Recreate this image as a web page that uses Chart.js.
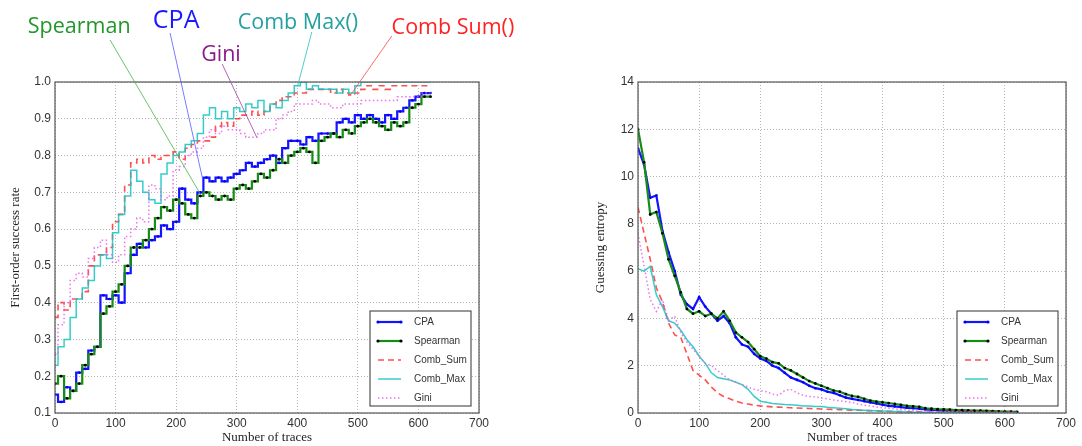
<!DOCTYPE html>
<html>
<head>
<meta charset="utf-8">
<script src="https://cdn.jsdelivr.net/npm/chart.js@4.4.0/dist/chart.umd.min.js"></script>
<style>
html,body{margin:0;padding:0;background:#fff;}
#wrap{position:relative;width:1082px;height:446px;overflow:hidden;background:#fff;}
#c1{position:absolute;left:0;top:0;}
#c2{position:absolute;left:541px;top:0;}
</style>
</head>
<body>
<div id="wrap">
<canvas id="c1" width="541" height="446"></canvas>
<canvas id="c2" width="541" height="446"></canvas>
</div>
<script>
// ---------- data ----------
const traces = [0,10,20,30,40,50,60,70,80,90,
  100,110,120,130,140,150,160,170,180,190,
  200,210,220,230,240,250,260,270,280,290,
  300,310,320,330,340,350,360,370,380,390,
  400,410,420,430,440,450,460,470,480,490,
  500,510,520,530,540,550,560,570,580,590,
  600,610,620];

const seriesNames = ['CPA','Spearman','Comb_Sum','Comb_Max','Gini'];

// First-order success rate (left)
const cpaRate = [0.15,0.13,0.17,0.16,0.21,0.22,0.27,0.28,0.42,0.41,
  0.42,0.40,0.48,0.53,0.56,0.55,0.57,0.58,0.61,0.60,
  0.62,0.71,0.68,0.67,0.70,0.74,0.73,0.74,0.73,0.74,
  0.75,0.76,0.78,0.77,0.78,0.79,0.80,0.78,0.82,0.84,
  0.84,0.83,0.85,0.84,0.86,0.86,0.86,0.89,0.90,0.89,
  0.91,0.90,0.91,0.90,0.89,0.91,0.90,0.92,0.93,0.95,
  0.96,0.97,0.97];
const spearmanRate = [0.18,0.20,0.14,0.16,0.18,0.23,0.26,0.28,0.37,0.39,
  0.43,0.45,0.50,0.55,0.55,0.57,0.60,0.63,0.66,0.65,
  0.68,0.67,0.64,0.63,0.69,0.70,0.69,0.68,0.69,0.68,
  0.71,0.72,0.71,0.73,0.75,0.74,0.76,0.79,0.78,0.80,
  0.81,0.82,0.81,0.78,0.84,0.85,0.86,0.85,0.87,0.86,
  0.88,0.89,0.90,0.89,0.88,0.87,0.89,0.88,0.89,0.93,
  0.94,0.96,0.96];
const combSumRate = [0.36,0.40,0.38,0.41,0.41,0.43,0.50,0.53,0.53,0.55,
  0.62,0.64,0.72,0.78,0.79,0.78,0.80,0.79,0.80,0.80,
  0.81,0.79,0.82,0.83,0.84,0.84,0.85,0.88,0.89,0.88,
  0.90,0.91,0.91,0.92,0.91,0.92,0.94,0.95,0.96,0.96,
  0.97,0.97,0.98,0.98,0.98,0.98,0.97,0.98,0.97,0.965,
  0.97,0.98,0.99,0.98,0.99,0.98,0.99,0.99,0.99,0.99,
  0.99,0.99,0.99];
const combMaxRate = [0.23,0.28,0.30,0.36,0.41,0.44,0.46,0.50,0.53,0.52,
  0.59,0.64,0.69,0.76,0.73,0.70,0.68,0.67,0.75,0.78,
  0.80,0.81,0.83,0.84,0.86,0.91,0.93,0.90,0.92,0.90,
  0.93,0.92,0.94,0.93,0.95,0.92,0.94,0.93,0.95,0.97,
  0.99,1.00,0.98,0.99,0.98,0.98,0.98,0.97,0.98,0.97,
  0.99,1.00,1.00,1.00,1.00,1.00,1.00,1.00,1.00,1.00,
  1.00,1.00,1.00];
const giniRate = [0.26,0.34,0.40,0.46,0.48,0.47,0.52,0.55,0.57,0.53,
  0.51,0.53,0.58,0.60,0.63,0.62,0.72,0.71,0.68,0.69,
  0.76,0.77,0.80,0.81,0.82,0.85,0.87,0.86,0.88,0.87,
  0.87,0.86,0.85,0.85,0.86,0.87,0.87,0.90,0.91,0.92,
  0.94,0.94,0.94,0.95,0.94,0.94,0.93,0.93,0.94,0.94,
  0.94,0.95,0.95,0.95,0.95,0.95,0.95,0.96,0.96,0.96,
  0.96,0.97,0.97];

// Guessing entropy (right)
const cpaGE = [11.2,10.5,9.1,9.2,7.7,6.8,6.0,5.0,4.6,4.4,
  4.9,4.5,4.2,3.9,4.1,3.8,3.2,2.9,2.8,2.5,
  2.3,2.2,2.0,1.9,1.7,1.5,1.4,1.3,1.15,1.05,
  1.0,0.9,0.85,0.75,0.65,0.6,0.55,0.5,0.45,0.4,
  0.35,0.3,0.28,0.25,0.22,0.2,0.18,0.15,0.13,0.12,
  0.1,0.09,0.08,0.07,0.06,0.06,0.05,0.05,0.04,0.04,
  0.03,0.03,0.03];
const spearmanGE = [12.0,10.6,8.4,8.5,7.6,6.5,5.8,5.1,4.4,4.2,
  4.3,4.1,4.2,4.0,4.3,3.9,3.4,3.2,3.0,2.7,
  2.4,2.3,2.15,2.1,1.9,1.8,1.65,1.5,1.35,1.25,
  1.15,1.05,0.95,0.9,0.8,0.72,0.68,0.6,0.52,0.48,
  0.45,0.42,0.38,0.34,0.3,0.28,0.26,0.2,0.18,0.16,
  0.15,0.14,0.12,0.12,0.11,0.1,0.1,0.09,0.08,0.07,
  0.06,0.06,0.05];
const combSumGE = [8.7,7.6,6.5,5.3,4.7,3.8,3.3,3.2,2.5,1.8,
  1.6,1.4,1.1,0.85,0.7,0.6,0.5,0.42,0.38,0.33,
  0.3,0.28,0.26,0.25,0.24,0.22,0.21,0.2,0.19,0.18,
  0.17,0.16,0.15,0.14,0.13,0.12,0.12,0.1,0.1,0.09,
  0.08,0.07,0.06,0.06,0.05,0.05,0.05,0.04,0.04,0.04,
  0.04,0.06,0.05,0.05,0.04,0.04,0.04,0.03,0.03,0.03,
  0.03,0.03,0.03];
const combMaxGE = [6.1,6.0,6.2,5.0,4.5,3.9,3.8,3.5,3.1,2.8,
  2.4,2.1,1.7,1.5,1.45,1.4,1.3,1.2,1.0,0.7,
  0.5,0.45,0.4,0.38,0.36,0.35,0.33,0.3,0.3,0.28,
  0.27,0.24,0.22,0.2,0.18,0.15,0.13,0.12,0.1,0.09,
  0.08,0.07,0.06,0.05,0.04,0.03,0.03,0.02,0.02,0.02,
  0.02,0.02,0.02,0.01,0.01,0.01,0.01,0.01,0.01,0.01,
  0.01,0.01,0.01];
const giniGE = [7.6,6.2,4.8,4.3,4.8,3.9,4.1,3.4,3.0,2.7,
  2.4,2.1,2.0,1.8,1.6,1.4,1.3,1.2,1.1,1.0,
  0.95,0.9,0.8,0.75,0.95,1.0,0.85,0.75,0.7,0.68,
  0.63,0.6,0.55,0.52,0.48,0.45,0.38,0.33,0.3,0.25,
  0.22,0.2,0.17,0.15,0.12,0.1,0.08,0.07,0.06,0.05,
  0.05,0.05,0.05,0.04,0.04,0.04,0.04,0.03,0.03,0.03,
  0.03,0.03,0.03];

const xTicks = [0,100,200,300,400,500,600,700];
const rateTicks = [0.1,0.2,0.3,0.4,0.5,0.6,0.7,0.8,0.9,1.0];
const geTicks = [0,2,4,6,8,10,12,14];

// callout labels on the left chart: text anchor and leader line in data units
const callouts = [
  {text:'Spearman',   color:'#22962a', line:'rgba(70,180,70,0.8)',  size:21.5, at:[40,1.150],  from:[91,1.114],  to:[239,0.698]},
  {text:'CPA',        color:'#1a1aff', line:'rgba(90,90,255,0.8)',  size:25,   at:[200,1.167], from:[190,1.133], to:[244,0.734]},
  {text:'Gini',       color:'#8a1a8a', line:'rgba(160,60,160,0.8)', size:21.5, at:[274,1.073], from:[276,1.049], to:[333,0.850]},
  {text:'Comb Max()', color:'#23a0a0', line:'rgba(40,190,190,0.8)', size:21.5, at:[401,1.160], from:[424,1.136], to:[401,0.992]},
  {text:'Comb Sum()', color:'#ff2222', line:'rgba(255,70,70,0.8)',  size:21.5, at:[657,1.147], from:[556,1.125], to:[489,0.967]}
];

// ---------- styles ----------
const styles = [
  {borderColor:'#1414ff', borderWidth:2.2, pointRadius:1.3, pointBackgroundColor:'#0000ff', order:5},
  {borderColor:'#178c17', borderWidth:2.2, pointRadius:1.4, pointBackgroundColor:'#000000', order:4},
  {borderColor:'rgba(255,20,20,0.75)', borderWidth:1.6, borderDash:[6,4], pointRadius:0, order:3},
  {borderColor:'rgba(20,195,195,0.85)', borderWidth:1.5, pointRadius:0, order:2},
  {borderColor:'rgba(235,90,235,0.85)', borderWidth:1.5, borderDash:[1.5,2.5], pointRadius:0, order:1}
];

function makeDatasets(arrays, stepped){
  return arrays.map((arr, k) => Object.assign({
    label: seriesNames[k],
    data: traces.map((t, i) => ({x: t, y: arr[i]})),
    fill:false, tension:0, stepped: stepped,
    pointBorderWidth:0, pointHoverRadius:0
  }, styles[k]));
}

const frameAndLegend = {
  id:'frameAndLegend',
  afterDatasetsDraw(chart){
    const {ctx, chartArea:a} = chart;
    ctx.save();
    ctx.strokeStyle = '#555';
    ctx.lineWidth = 1.2;
    ctx.setLineDash([]);
    ctx.strokeRect(a.left, a.top, a.right - a.left, a.bottom - a.top);
    // legend box
    const w = 101, h = 95;
    const bx = a.right - 8 - w, by = a.bottom - 7 - h;
    ctx.fillStyle = '#fff';
    ctx.fillRect(bx, by, w, h);
    ctx.strokeStyle = '#444';
    ctx.lineWidth = 1.1;
    ctx.strokeRect(bx, by, w, h);
    chart.data.datasets.forEach((d, i) => {
      const yy = by + 11 + i * 19;
      const x0 = bx + 8, x1 = bx + 31;
      ctx.strokeStyle = d.borderColor;
      ctx.lineWidth = d.borderWidth;
      ctx.setLineDash(d.borderDash || []);
      ctx.beginPath(); ctx.moveTo(x0, yy); ctx.lineTo(x1, yy); ctx.stroke();
      ctx.setLineDash([]);
      if (d.pointRadius > 0) {
        ctx.fillStyle = d.pointBackgroundColor;
        [x0, x1].forEach(px => { ctx.beginPath(); ctx.arc(px, yy, 1.6, 0, Math.PI*2); ctx.fill(); });
      }
      ctx.fillStyle = '#333';
      ctx.font = '10px "Liberation Sans", Arial, sans-serif';
      ctx.textAlign = 'left'; ctx.textBaseline = 'middle';
      ctx.fillText(d.label, bx + 44, yy + 0.5);
    });
    ctx.restore();
  }
};

const calloutPlugin = {
  id:'callouts',
  afterDraw(chart){
    const {ctx, scales:{x, y}} = chart;
    ctx.save();
    callouts.forEach(c => {
      ctx.strokeStyle = c.line; ctx.lineWidth = 1; ctx.setLineDash([]);
      ctx.beginPath();
      ctx.moveTo(x.getPixelForValue(c.from[0]), y.getPixelForValue(c.from[1]));
      ctx.lineTo(x.getPixelForValue(c.to[0]), y.getPixelForValue(c.to[1]));
      ctx.stroke();
      ctx.fillStyle = c.color;
      ctx.font = c.size + 'px "Open Sans", "DejaVu Sans", sans-serif';
      ctx.textAlign = 'center'; ctx.textBaseline = 'middle';
      ctx.fillText(c.text, x.getPixelForValue(c.at[0]), y.getPixelForValue(c.at[1]));
    });
    ctx.restore();
  }
};

const tickFont = {family:'"Liberation Sans", Arial, sans-serif', size:12};
const titleFont = {family:'"Liberation Serif", "Times New Roman", serif', size:13};

function xScale(){
  return {
    type:'linear', min:0, max:700,
    afterBuildTicks(s){ s.ticks = xTicks.map(v => ({value:v})); },
    ticks:{color:'#333', font:tickFont, padding:3, maxRotation:0, autoSkip:false},
    grid:{color:'#b5b5b5', lineWidth:1, drawTicks:false},
    border:{display:false, dash:[1,2]},
    title:{display:true, text:'Number of traces', color:'#222', font:titleFont, padding:{top:0, bottom:1}},
    afterFit(s){ s.height = 33; }
  };
}
function yScale(min, max, ticks, title, width, digits){
  return {
    type:'linear', min:min, max:max,
    afterBuildTicks(s){ s.ticks = ticks.map(v => ({value:v})); },
    ticks:{color:'#333', font:tickFont, padding:4, autoSkip:false,
           callback:(v) => Number(v).toFixed(digits)},
    grid:{color:'#b5b5b5', lineWidth:1, drawTicks:false},
    border:{display:false, dash:[1,2]},
    title:{display:true, text:title, color:'#222', font:titleFont, padding:{top:4, bottom:2}},
    afterFit(s){ s.width = width; }
  };
}

function baseOptions(padding, yopts){
  return {
    responsive:false, animation:false, devicePixelRatio:1,
    layout:{padding:padding},
    plugins:{legend:{display:false}, tooltip:{enabled:false}},
    events:[],
    scales:{x:xScale(), y:yopts}
  };
}

new Chart(document.getElementById('c1'), {
  type:'line',
  data:{datasets: makeDatasets([cpaRate, spearmanRate, combSumRate, combMaxRate, giniRate], 'middle')},
  options: baseOptions({top:82, right:62, bottom:0, left:4},
    yScale(0.1, 1.0, rateTicks, 'First-order success rate', 51, 1)),
  plugins:[frameAndLegend, calloutPlugin]
});

new Chart(document.getElementById('c2'), {
  type:'line',
  data:{datasets: makeDatasets([cpaGE, spearmanGE, combSumGE, combMaxGE, giniGE], false)},
  options: baseOptions({top:82, right:16, bottom:0, left:48},
    yScale(0, 14, geTicks, 'Guessing entropy', 49, 0)),
  plugins:[frameAndLegend]
});
</script>
</body>
</html>
